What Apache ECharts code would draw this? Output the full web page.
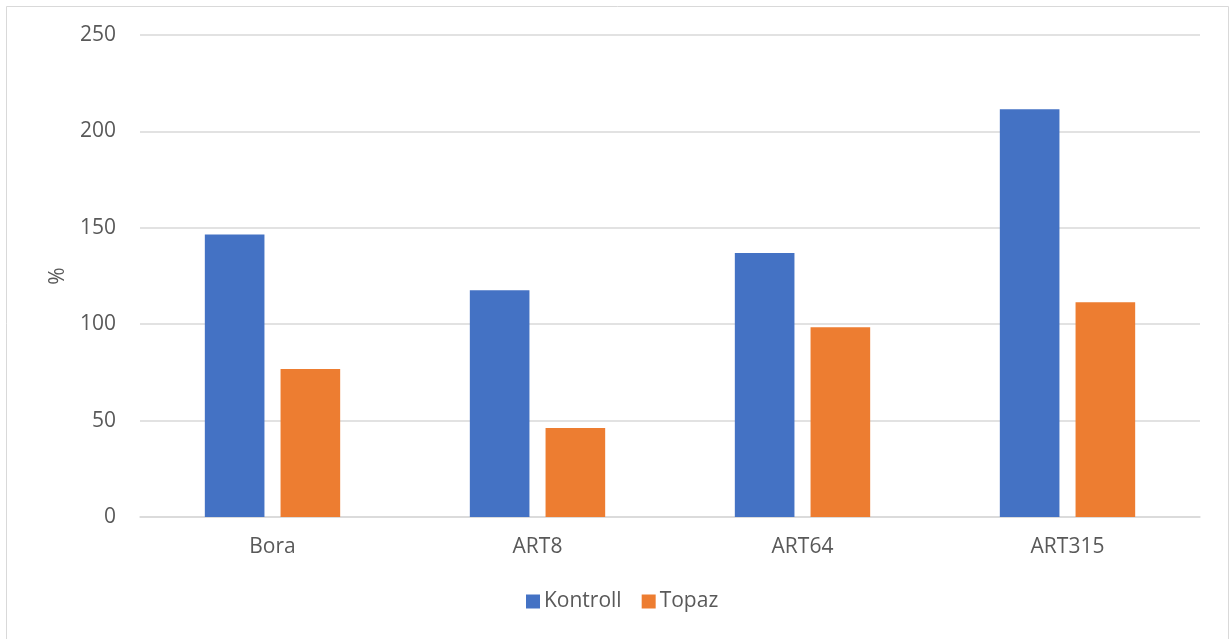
<!DOCTYPE html>
<html>
<head>
<meta charset="utf-8">
<script src="https://cdn.jsdelivr.net/npm/echarts@6/dist/echarts.min.js"></script>
<style>
  html, body { margin: 0; padding: 0; background: #fff; }
  #chart { width: 1232px; height: 639px; }
</style>
</head>
<body>
<div id="chart"></div>
<script>
// data
const categories = ['Bora', 'ART8', 'ART64', 'ART315']
const kontroll = [146.5, 117.6, 136.9, 211.5]
const topaz = [76.8, 46.1, 98.4, 111.4]
const yTicks = [0, 50, 100, 150, 200, 250]

const textColor = '#595959'
const font = 'Open Sans'

const chart = echarts.init(document.getElementById('chart'))

chart.setOption({
  animation: false,
  backgroundColor: '#fff',
  textStyle: { fontFamily: font },
  graphic: [{
    type: 'rect',
    shape: { x: 6.5, y: 6.5, width: 1222, height: 640 },
    style: { fill: 'none', stroke: '#d9d9d9', lineWidth: 1 },
    silent: true
  }],
  grid: {
    left: 140,
    right: 32,
    top: 35,
    bottom: 122
  },
  legend: {
    left: 526,
    top: 591,
    padding: 0,
    itemWidth: 14,
    itemHeight: 14,
    itemGap: 20,
    icon: 'rect',
    textStyle: { color: textColor, fontSize: 21, fontFamily: font, padding: [0, 0, 0, -1] },
    data: ['Kontroll', 'Topaz']
  },
  xAxis: {
    type: 'category',
    data: categories,
    axisLine: { lineStyle: { color: '#d9d9d9', width: 1.5 } },
    axisTick: { show: false },
    axisLabel: { color: textColor, fontSize: 21, fontFamily: font, margin: 20 }
  },
  yAxis: {
    type: 'value',
    name: '%',
    nameLocation: 'middle',
    nameGap: 71,
    nameTextStyle: { color: textColor, fontSize: 21, fontFamily: font },
    min: yTicks[0],
    max: yTicks[yTicks.length - 1],
    interval: 50,
    axisLine: { show: false },
    axisTick: { show: false },
    axisLabel: { color: textColor, fontSize: 21, fontFamily: font, margin: 24 },
    splitLine: { lineStyle: { color: '#d9d9d9', width: 1.5 } }
  },
  series: [{
    name: 'Kontroll',
    type: 'bar',
    data: kontroll,
    barWidth: '22.5%',
    barGap: '27%',
    itemStyle: { color: '#4472C4' }
  }, {
    name: 'Topaz',
    type: 'bar',
    data: topaz,
    barWidth: '22.5%',
    itemStyle: { color: '#ED7D31' }
  }]
})
</script>
</body>
</html>
